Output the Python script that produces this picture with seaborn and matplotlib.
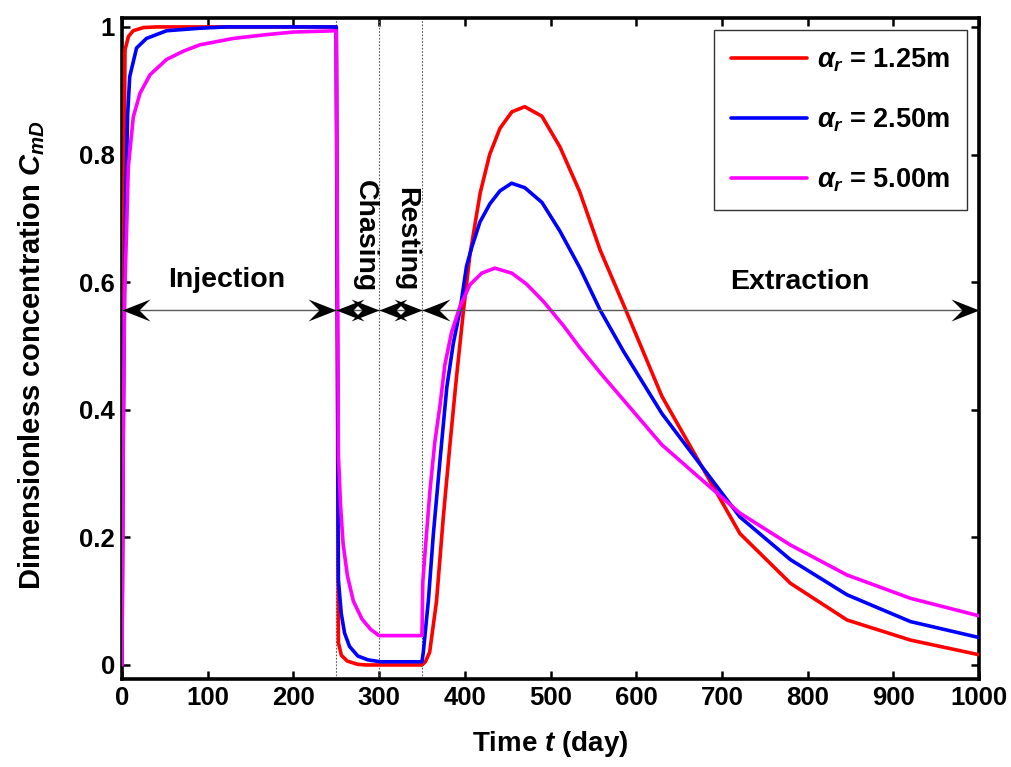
import numpy as np
import pandas as pd
import matplotlib
matplotlib.use("Agg")
import matplotlib.pyplot as plt
import seaborn as sns
from matplotlib import font_manager as fm

# ---------------- data ----------------
t_red = [0, 1.5, 3.5, 7.5, 13, 25, 40, 250, 252.5, 256, 263, 275, 285, 350, 354, 359, 367, 375, 383,
         390, 398, 406, 418, 429, 441, 455, 470, 490, 511, 534, 558, 587, 630, 721, 780, 846, 920, 1000]
c_red = [0, 0.6, 0.964, 0.985, 0.994, 0.999, 1.0, 1.0, 0.035, 0.015, 0.006, 0.001, 0, 0, 0.005, 0.02,
         0.10, 0.233, 0.35, 0.447, 0.55, 0.643, 0.74, 0.80, 0.841, 0.867, 0.875, 0.86, 0.812, 0.742,
         0.650, 0.559, 0.421, 0.206, 0.128, 0.0705, 0.039, 0.016]

t_blue = [0, 1, 3, 4.5, 6.5, 9, 17, 28.6, 52, 91, 122, 250, 252.5, 255.8, 259.7, 265.5, 275.2, 287,
          301.6, 350, 351.6, 357.5, 363.3, 371, 379, 386.6, 394.4, 402, 408, 417.6, 429.4, 441, 454.6,
          470, 490, 511, 534.4, 558, 585, 630, 721, 780, 846, 920, 1000]
c_blue = [0, 0.3, 0.6, 0.729, 0.86, 0.922, 0.967, 0.982, 0.994, 0.998, 1.0, 1.0, 0.133, 0.081, 0.05,
          0.029, 0.014, 0.008, 0.005, 0.005, 0.02, 0.101, 0.205, 0.32, 0.435, 0.504, 0.556, 0.625,
          0.654, 0.694, 0.723, 0.743, 0.755, 0.748, 0.725, 0.680, 0.622, 0.556, 0.492, 0.394, 0.232,
          0.165, 0.110, 0.068, 0.043]

t_mag = [0, 1.5, 3, 5.3, 7.4, 13.2, 21, 32.7, 52, 71.6, 91, 130, 169, 200, 250, 252.5, 255, 258, 263,
         270, 280, 290, 300, 350, 351, 353.6, 359.4, 365, 371, 376.7, 384.5, 394.4, 406, 419.7, 435,
         455, 472, 491.6, 515, 534.4, 558, 630, 721, 780, 846, 920, 1000]
c_mag = [0, 0.35, 0.58, 0.677, 0.781, 0.859, 0.896, 0.925, 0.949, 0.962, 0.972, 0.982, 0.988, 0.992,
         0.994, 0.33, 0.25, 0.19, 0.14, 0.10, 0.072, 0.056, 0.046, 0.046, 0.13, 0.176, 0.274, 0.349,
         0.406, 0.47, 0.521, 0.562, 0.596, 0.614, 0.622, 0.614, 0.597, 0.570, 0.532, 0.497, 0.458,
         0.345, 0.238, 0.188, 0.141, 0.1045, 0.077]

series_labels = [r"$\alpha_r$ = 1.25m", r"$\alpha_r$ = 2.50m", r"$\alpha_r$ = 5.00m"]
series_colors = ["#ff0000", "#0000ff", "#ff00ff"]

phase_edges = [0, 250, 300, 350, 1000]
phase_names = ["Injection", "Chasing", "Resting", "Extraction"]
arrow_level = 0.556

x_ticks = [0, 100, 200, 300, 400, 500, 600, 700, 800, 900, 1000]
y_ticks = [0, 0.2, 0.4, 0.6, 0.8, 1.0]
y_tick_labels = ["0", "0.2", "0.4", "0.6", "0.8", "1"]

# ---------------- style ----------------
sns.set_style("ticks")
names = {f.name for f in fm.fontManager.ttflist}
NARROW = "Liberation Sans Narrow" in names
fam = ["Liberation Sans Narrow", "Liberation Sans", "DejaVu Sans"] if NARROW else ["Liberation Sans", "DejaVu Sans"]
k = 1.15 if NARROW else 1.0
plt.rcParams["font.family"] = fam
plt.rcParams["font.weight"] = "bold"
plt.rcParams["axes.labelweight"] = "bold"
for key in ["text.color", "axes.labelcolor", "xtick.color", "ytick.color", "axes.edgecolor"]:
    plt.rcParams[key] = "black"
plt.rcParams["mathtext.fontset"] = "custom"
mfam = "Liberation Sans"
plt.rcParams["mathtext.rm"] = mfam + ":bold"
plt.rcParams["mathtext.bf"] = mfam + ":bold"
plt.rcParams["mathtext.it"] = mfam + ":italic:bold"

fig = plt.figure(figsize=(10.11, 7.67), dpi=100)
ax = fig.add_axes([122 / 1011, 1 - 679 / 767, (979 - 122) / 1011, (679 - 18) / 767])

dfs = []
for t, c, lab in zip([t_red, t_blue, t_mag], [c_red, c_blue, c_mag], series_labels):
    dfs.append(pd.DataFrame({"t": t, "C": c, "series": lab}))
df = pd.concat(dfs, ignore_index=True)

# vertical phase lines
for e in phase_edges[1:-1]:
    ax.axvline(e, color="0.35", lw=0.8, ls=(0, (1.5, 1.5)), zorder=1)

sns.lineplot(data=df, x="t", y="C", hue="series", hue_order=series_labels,
             palette=dict(zip(series_labels, series_colors)), estimator=None, sort=False,
             lw=2.6, ax=ax, zorder=3)

# phase arrows
ax.hlines(arrow_level, phase_edges[0], phase_edges[-1], color="0.35", lw=1.0, zorder=4)
L, N, H = 28.0, 17.0, 11.0
right_head = [(0, 0), (-L, H), (-N, 0), (-L, -H), (0, 0)]
left_head = [(-x, y) for x, y in right_head]
ms = 2 * L * 0.72
for a, b in zip(phase_edges[:-1], phase_edges[1:]):
    ax.plot([a], [arrow_level], ls="none", marker=left_head, ms=ms, color="k", mew=0, zorder=6, clip_on=False)
    ax.plot([b], [arrow_level], ls="none", marker=right_head, ms=ms, color="k", mew=0, zorder=6, clip_on=False)

# phase names
fs_txt = 20.5 * k
ax.text(122.5, 0.603, phase_names[0], ha="center", va="center", fontsize=fs_txt, fontweight="bold")
ax.text(283.6, 0.672, phase_names[1], ha="center", va="center", rotation=-90, fontsize=fs_txt, fontweight="bold")
ax.text(332.0, 0.668, phase_names[2], ha="center", va="center", rotation=-90, fontsize=fs_txt, fontweight="bold")
ax.text(791, 0.600, phase_names[3], ha="center", va="center", fontsize=fs_txt, fontweight="bold")

# axes
ax.set_xlim(0, 1000)
ax.set_ylim(-0.022, 1.014)
ax.set_xticks(x_ticks)
ax.set_yticks(y_ticks)
ax.set_yticklabels(y_tick_labels)
ax.tick_params(direction="in", length=6, width=1.8, top=True, right=True,
               labelsize=18.5 * k, pad=5, colors="black")
for lab in ax.get_xticklabels() + ax.get_yticklabels():
    lab.set_fontweight("bold")
for s in ax.spines.values():
    s.set_linewidth(2.6)
    s.set_color("k")

ax.set_xlabel(r"Time $t$ (day)", fontsize=20 * k, fontweight="bold")
ax.set_ylabel(r"Dimensionless concentration $C_{mD}$", fontsize=21 * k, fontweight="bold")
ax.xaxis.set_label_coords(0.5, -0.075)
ax.yaxis.set_label_coords(-0.088, 0.49)

# legend
handles, labels = ax.get_legend_handles_labels()
leg = ax.legend(handles, labels, loc="upper right", frameon=True, fancybox=False,
                prop={"size": 19.5 * k, "weight": "bold"}, handlelength=2.8, handletextpad=0.4,
                labelspacing=1.2, borderpad=0.6, borderaxespad=0.45)
leg.get_frame().set_edgecolor("k")
leg.get_frame().set_linewidth(1.0)
for ln in leg.get_lines():
    ln.set_linewidth(2.6)

fig.savefig("out.png", dpi=100)
